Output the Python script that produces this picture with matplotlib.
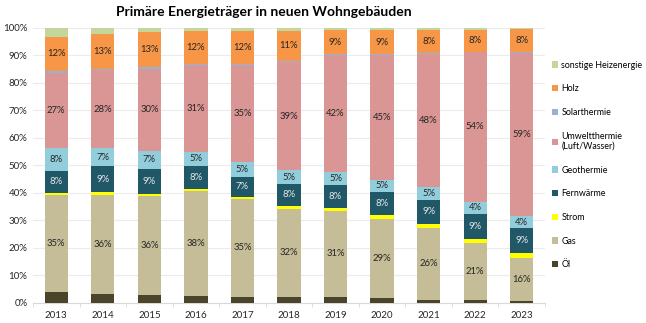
import numpy as np
import matplotlib.pyplot as plt

# Data (shares in %)
years = ['2013', '2014', '2015', '2016', '2017', '2018', '2019', '2020', '2021', '2022', '2023']

oel = [4.0, 3.0, 2.7, 2.3, 2.2, 2.1, 2.2, 1.6, 1.1, 0.9, 0.6]
gas = [35.1, 36.3, 36.0, 38.4, 35.4, 32.0, 31.1, 29.0, 26.2, 20.7, 15.6]
strom = [0.9, 0.9, 0.9, 0.7, 0.9, 1.1, 1.2, 1.2, 1.3, 1.7, 1.7]
fernwaerme = [8.0, 9.4, 9.0, 8.4, 7.3, 8.1, 8.4, 8.4, 8.8, 9.0, 9.2]
geothermie = [8.4, 6.6, 6.6, 5.1, 5.2, 4.8, 4.7, 4.6, 4.6, 4.4, 4.4]
umweltthermie = [27.3, 28.3, 29.9, 31.4, 35.4, 39.3, 42.4, 45.4, 48.4, 54.4, 59.3]
solarthermie = [0.7, 0.6, 0.5, 0.6, 0.5, 0.4, 0.3, 0.3, 0.3, 0.2, 0.2]
holz = [12.2, 12.7, 12.8, 11.8, 11.8, 11.1, 9.0, 8.6, 8.4, 8.0, 8.4]
sonstige = [3.4, 2.2, 1.6, 1.3, 1.3, 1.1, 0.7, 0.9, 0.9, 0.7, 0.6]

# series: (name, values, colour, show label, label colour)
series = [
    ('Öl', oel, '#4a452a', False, 'black'),
    ('Gas', gas, '#c4bd97', True, '#262626'),
    ('Strom', strom, '#ffff00', False, 'black'),
    ('Fernwärme', fernwaerme, '#215868', True, '#e8e8e8'),
    ('Geothermie', geothermie, '#92cddc', True, '#262626'),
    ('Umweltthermie\n(Luft/Wasser)', umweltthermie, '#d99694', True, '#262626'),
    ('Solarthermie', solarthermie, '#95b3d7', False, 'black'),
    ('Holz', holz, '#f79646', True, '#262626'),
    ('sonstige Heizenergie', sonstige, '#c3d69b', False, 'black'),
]

plt.rcParams['font.family'] = ['Lato', 'DejaVu Sans']

fig = plt.figure(figsize=(6.46, 3.23), dpi=100)
ax = fig.add_axes([33/646, 1 - 302.7/323, 512/646, (302.7 - 27.7)/323])

x = np.arange(len(years))
bottom = np.zeros(len(years))
handles = []
for name, vals, col, show, tcol in series:
    vals = np.array(vals)
    bars = ax.bar(x, vals, 0.5, bottom=bottom, color=col, label=name, zorder=3)
    handles.append(bars)
    if show:
        for xi, b, v in zip(x, bottom, vals):
            ax.text(xi, b + v / 2, f'{int(v + 0.5)}%', ha='center', va='center',
                    fontsize=6.8, color=tcol, zorder=4)
    bottom += vals

ax.set_xlim(-0.5, len(years) - 0.5)
ax.set_ylim(0, 100)
ax.set_yticks(np.arange(0, 101, 10))
ax.set_yticklabels([f'{v}%' for v in range(0, 101, 10)])
ax.set_xticks(x)
ax.set_xticklabels(years)
ax.set_xticks(np.arange(-0.5, len(years), 1), minor=True)
ax.tick_params(axis='x', which='major', length=0, labelsize=7, pad=6, colors='#262626')
ax.tick_params(axis='x', which='minor', length=3, color='#d9d9d9')
ax.tick_params(axis='y', length=0, labelsize=7, pad=4, colors='#262626')
ax.grid(axis='y', color='#ececec', lw=0.8, zorder=0)
for s in ['top', 'right', 'left']:
    ax.spines[s].set_visible(False)
ax.spines['bottom'].set_color('#d9d9d9')

fig.text(264/646, 1 - 12/323, 'Primäre Energieträger in neuen Wohngebäuden',
         ha='center', va='center', fontsize=10, fontweight='bold')

leg = fig.legend(handles[::-1], [s[0] for s in series][::-1],
                 loc='upper left', bbox_to_anchor=(548/646, 1 - 57/323),
                 frameon=False, fontsize=6.4, handlelength=0.7, handleheight=0.7,
                 handletextpad=0.4, labelspacing=1.65, borderaxespad=0)

fig.savefig('out.png', dpi=100)
